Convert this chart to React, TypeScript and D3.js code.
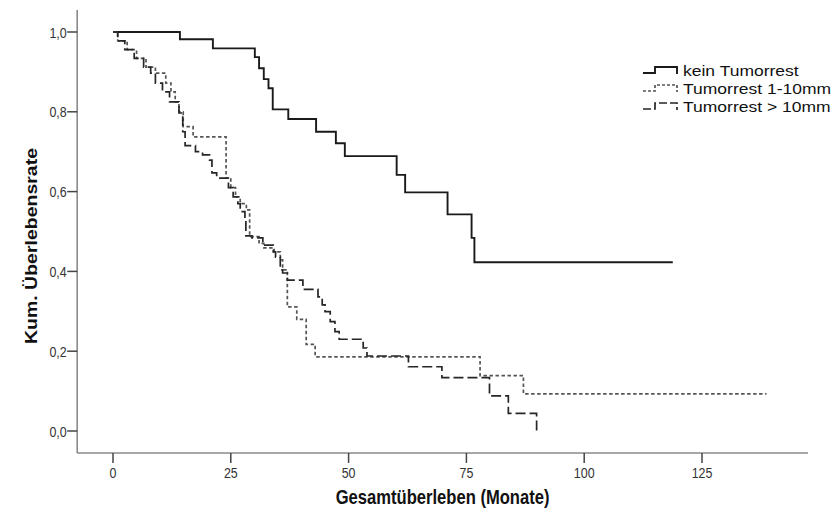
import React, { useEffect, useRef } from "react";
import * as d3 from "d3";

// ---- data (months, cumulative survival after each step) ----
const keinTimes = [0, 14.2, 21.2, 30.1, 31.0, 32.0, 33.0, 33.9, 37.2, 43.1, 47.3, 49.2, 60.2, 62.0, 71.0, 76.1, 76.7];
const keinSurv = [1.0, 0.982, 0.959, 0.937, 0.909, 0.882, 0.859, 0.806, 0.782, 0.75, 0.721, 0.689, 0.642, 0.598, 0.543, 0.484, 0.423];
const keinEnd = 118.8;

const mid1Times = [0, 1.0, 3.0, 5.0, 7.0, 9.0, 11.2, 12.3, 13.2, 14.0, 14.9, 17.0, 24.0, 25.0, 26.0, 27.0, 28.3, 29.0, 31.0, 32.0, 34.2, 35.5, 36.0, 37.0, 39.0, 41.0, 42.9, 77.9, 87.1];
const mid1Surv = [1.0, 0.978, 0.956, 0.934, 0.912, 0.897, 0.872, 0.85, 0.825, 0.8, 0.763, 0.737, 0.634, 0.61, 0.587, 0.57, 0.554, 0.487, 0.47, 0.459, 0.449, 0.429, 0.404, 0.311, 0.28, 0.217, 0.186, 0.139, 0.093];
const mid1End = 138.7;

const big10Times = [0, 1.0, 2.5, 4.5, 6.5, 8.0, 9.0, 10.5, 12.0, 14.0, 14.8, 15.3, 17.5, 19.0, 20.5, 21.0, 22.0, 24.5, 25.5, 26.5, 27.0, 28.0, 28.2, 29.5, 31.8, 34.0, 34.5, 35.5, 36.0, 37.0, 40.3, 43.5, 44.4, 45.0, 46.1, 47.1, 48.0, 53.1, 53.9, 62.7, 69.8, 79.9, 83.9, 89.9];
const big10Surv = [1.0, 0.978, 0.956, 0.934, 0.912, 0.897, 0.872, 0.85, 0.825, 0.797, 0.75, 0.715, 0.7, 0.692, 0.679, 0.647, 0.634, 0.61, 0.587, 0.57, 0.55, 0.53, 0.489, 0.484, 0.466, 0.449, 0.436, 0.404, 0.396, 0.378, 0.355, 0.336, 0.316, 0.299, 0.274, 0.249, 0.23, 0.208, 0.188, 0.161, 0.134, 0.088, 0.044, 0.0];
const big10End = 89.9;

const xTicks = [0, 25, 50, 75, 100, 125];
const yTicks = [0, 0.2, 0.4, 0.6, 0.8, 1.0];
const legendLabels = ["kein Tumorrest", "Tumorrest 1-10mm", "Tumorrest > 10mm"];

const W = 832;
const H = 517;
const FONT = "'Liberation Sans', Arial, sans-serif";
const SQ = 0.83; // horizontal condensing of axis text

export default function App() {
  const ref = useRef<SVGSVGElement | null>(null);

  useEffect(() => {
    const svg = d3.select(ref.current);
    svg.selectAll("*").remove();

    const x = d3.scaleLinear().domain([0, 125]).range([113, 702]);
    const y = d3.scaleLinear().domain([0, 1]).range([431, 32]);
    const xLo = -7.6, xHi = 147.5, yLo = -0.055, yHi = 1.055;

    const addText = (
      px: number, py: number, str: string, size: number,
      anchor: string, weight = "normal", rotate = 0, fill = "#222", sq = SQ
    ) => {
      svg.append("g")
        .attr("transform", `translate(${px},${py}) scale(${sq},1) rotate(${rotate})`)
        .append("text")
        .attr("text-anchor", anchor)
        .attr("font-family", FONT)
        .attr("font-size", size)
        .attr("font-weight", weight)
        .attr("fill", fill)
        .text(str);
    };

    // axes lines
    const axisColor = "#8a8a8a";
    svg.append("line")
      .attr("x1", x(xLo)).attr("x2", x(xLo))
      .attr("y1", y(yHi)).attr("y2", y(yLo))
      .attr("stroke", axisColor).attr("stroke-width", 1.6);
    svg.append("line")
      .attr("x1", x(xLo)).attr("x2", x(xHi))
      .attr("y1", y(yLo)).attr("y2", y(yLo))
      .attr("stroke", axisColor).attr("stroke-width", 1.6);

    // y ticks
    const fmt = (v: number) => v.toFixed(1).replace(".", ",");
    yTicks.forEach((v) => {
      svg.append("line")
        .attr("x1", x(xLo) - 10).attr("x2", x(xLo))
        .attr("y1", y(v)).attr("y2", y(v))
        .attr("stroke", "#444").attr("stroke-width", 1.5);
      addText(x(xLo) - 10.5, y(v) + 5.5, fmt(v), 15, "end", "normal", 0, "#333");
    });

    // x ticks
    xTicks.forEach((v) => {
      svg.append("line")
        .attr("x1", x(v)).attr("x2", x(v))
        .attr("y1", y(yLo)).attr("y2", y(yLo) + 10)
        .attr("stroke", "#444").attr("stroke-width", 1.5);
      addText(x(v), y(yLo) + 25, String(v), 15, "middle", "normal", 0, "#333");
    });

    // titles
    addText((x(xLo) + x(xHi)) / 2, 504, "Gesamtüberleben (Monate)", 20, "middle", "bold", 0, "#111");
    addText(37, 246, "Kum. Überlebensrate", 19.5, "middle", "bold", -90, "#111");

    const line = d3.line<[number, number]>()
      .x((d) => x(d[0])).y((d) => y(d[1]))
      .curve(d3.curveStepAfter);

    const series = [
      { t: keinTimes, s: keinSurv, end: keinEnd, color: "#1a1a1a", dash: null as string | null, w: 1.9 },
      { t: mid1Times, s: mid1Surv, end: mid1End, color: "#555", dash: "3.5,2.5", w: 1.7 },
      { t: big10Times, s: big10Surv, end: big10End, color: "#262626", dash: "10,4", w: 1.7 },
    ];

    series.forEach((sr) => {
      const pts: [number, number][] = sr.t.map((t, i) => [t, sr.s[i]]);
      const last = pts[pts.length - 1];
      if (last[0] < sr.end) pts.push([sr.end, last[1]]);
      svg.append("path")
        .attr("d", line(pts) as string)
        .attr("fill", "none")
        .attr("stroke", sr.color)
        .attr("stroke-width", sr.w)
        .attr("stroke-dasharray", sr.dash);
    });

    // legend
    series.forEach((sr, i) => {
      const by = 76 + i * 18;
      svg.append("path")
        .attr("d", `M643,${by - 3}H655V${by - 9}H677V${by - 2}`)
        .attr("fill", "none")
        .attr("stroke", sr.color)
        .attr("stroke-width", sr.w)
        .attr("stroke-dasharray", sr.dash ? (i === 1 ? "3,2" : "8,3") : null);
      addText(683, by, legendLabels[i], 15.5, "start", "normal", 0, "#111", 1.13);
    });
  }, []);

  return (
    <svg
      ref={ref}
      width={W}
      height={H}
      style={{ position: "absolute", left: 0, top: 0, background: "#fff" }}
    />
  );
}
